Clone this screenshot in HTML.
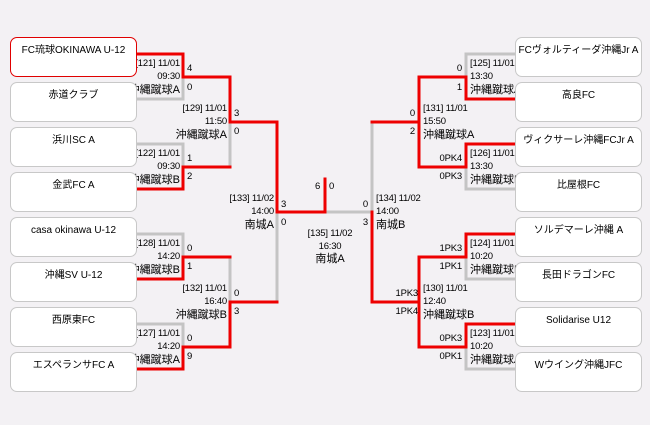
<!DOCTYPE html>
<html><head><meta charset="utf-8"><style>
html,body{margin:0;padding:0}
body{width:650px;height:425px;background:#f3f1f4;position:relative;overflow:hidden;font-family:"Liberation Sans","Noto Sans CJK JP",sans-serif;font-size:9.5px;color:#000}
svg{position:absolute;left:0;top:0}
.t{position:absolute;white-space:nowrap;line-height:13px;letter-spacing:-0.2px}
.t .j{font-size:11px;letter-spacing:0}
.r{text-align:right}
.b{position:absolute;background:#fff;border:1px solid #c8c8c8;border-radius:7px;text-align:center;z-index:5;line-height:12px;padding-top:7px;box-sizing:border-box;height:40px;width:127px;font-size:10px}
.red{border-color:#e00000}
</style></head><body>
<svg width="650" height="425">
<g fill="none" stroke-width="3" stroke-linecap="square">
<g stroke="#c4c4c4">
<path d="M137 99H183V77"/>
<path d="M137 144H183V167"/>
<path d="M230 122V167"/>
<path d="M137 234H183V257"/>
<path d="M137 324H183V347"/>
<path d="M230 257V302"/>
<path d="M277 212V302"/>
<path d="M325 212H372V122"/>
<path d="M515 54H466V77"/>
<path d="M515 189H466V167"/>
<path d="M515 279H466V257"/>
<path d="M515 369H466V347"/>
</g>
<g stroke="#ee0000">
<path d="M137 54H183V77H230V122H277V212H325V179"/>
<path d="M137 189H183V167H230"/>
<path d="M137 279H183V257H230"/>
<path d="M137 369H183V347H230V302H277"/>
<path d="M515 99H466V77H419V167H466V144H515"/>
<path d="M419 122H372"/>
<path d="M515 234H466V257H419V347H466V324H515"/>
<path d="M419 302H372V212"/>
</g>
</g>
</svg>

<div class="b red" style="left:10px;top:37px">FC琉球OKINAWA U-12</div>
<div class="b" style="left:10px;top:82px">赤道クラブ</div>
<div class="b" style="left:10px;top:127px">浜川SC A</div>
<div class="b" style="left:10px;top:172px">金武FC A</div>
<div class="b" style="left:10px;top:217px">casa okinawa U-12</div>
<div class="b" style="left:10px;top:262px">沖縄SV U-12</div>
<div class="b" style="left:10px;top:307px">西原東FC</div>
<div class="b" style="left:10px;top:352px">エスペランサFC A</div>

<div class="b" style="left:515px;top:37px">FCヴォルティーダ沖縄Jr A</div>
<div class="b" style="left:515px;top:82px">高良FC</div>
<div class="b" style="left:515px;top:127px">ヴィクサーレ沖縄FCJr A</div>
<div class="b" style="left:515px;top:172px">比屋根FC</div>
<div class="b" style="left:515px;top:217px">ソルデマーレ沖縄 A</div>
<div class="b" style="left:515px;top:262px">長田ドラゴンFC</div>
<div class="b" style="left:515px;top:307px">Solidarise U12</div>
<div class="b" style="left:515px;top:352px">Wウイング沖縄JFC</div>

<div class="t r" style="right:470px;top:57px">[121] 11/01<br>09:30</div><div class="t r" style="right:470px;top:84px"><span class="j">沖縄蹴球A</span></div>
<div class="t" style="left:187px;top:62px">4</div><div class="t" style="left:187px;top:81px">0</div>
<div class="t r" style="right:470px;top:147px">[122] 11/01<br>09:30</div><div class="t r" style="right:470px;top:174px"><span class="j">沖縄蹴球B</span></div>
<div class="t" style="left:187px;top:152px">1</div><div class="t" style="left:187px;top:170px">2</div>
<div class="t r" style="right:470px;top:237px">[128] 11/01<br>14:20</div><div class="t r" style="right:470px;top:264px"><span class="j">沖縄蹴球B</span></div>
<div class="t" style="left:187px;top:242px">0</div><div class="t" style="left:187px;top:260px">1</div>
<div class="t r" style="right:470px;top:327px">[127] 11/01<br>14:20</div><div class="t r" style="right:470px;top:354px"><span class="j">沖縄蹴球A</span></div>
<div class="t" style="left:187px;top:332px">0</div><div class="t" style="left:187px;top:350px">9</div>

<div class="t r" style="right:423px;top:102px">[129] 11/01<br>11:50</div><div class="t r" style="right:423px;top:129px"><span class="j">沖縄蹴球A</span></div>
<div class="t" style="left:234px;top:107px">3</div><div class="t" style="left:234px;top:125px">0</div>
<div class="t r" style="right:423px;top:282px">[132] 11/01<br>16:40</div><div class="t r" style="right:423px;top:309px"><span class="j">沖縄蹴球B</span></div>
<div class="t" style="left:234px;top:287px">0</div><div class="t" style="left:234px;top:305px">3</div>

<div class="t r" style="right:376px;top:192px">[133] 11/02<br>14:00</div><div class="t r" style="right:376px;top:219px"><span class="j">南城A</span></div>
<div class="t" style="left:281px;top:198px">3</div><div class="t" style="left:281px;top:216px">0</div>
<div class="t" style="left:315px;top:180px">6</div><div class="t" style="left:329px;top:180px">0</div>
<div class="t" style="left:300px;top:227px;width:60px;text-align:center">[135] 11/02<br>16:30</div>
<div class="t" style="left:300px;top:253px;width:60px;text-align:center"><span class="j">南城A</span></div>
<div class="t" style="left:376px;top:192px">[134] 11/02<br>14:00</div><div class="t" style="left:376px;top:219px"><span class="j">南城B</span></div>
<div class="t r" style="right:282px;top:198px">0</div><div class="t r" style="right:282px;top:216px">3</div>

<div class="t" style="left:423px;top:102px">[131] 11/01<br>15:50</div><div class="t" style="left:423px;top:129px"><span class="j">沖縄蹴球A</span></div>
<div class="t r" style="right:235px;top:107px">0</div><div class="t r" style="right:235px;top:125px">2</div>
<div class="t" style="left:423px;top:282px">[130] 11/01<br>12:40</div><div class="t" style="left:423px;top:309px"><span class="j">沖縄蹴球B</span></div>
<div class="t r" style="right:232px;top:287px">1PK3</div><div class="t r" style="right:232px;top:305px">1PK4</div>

<div class="t" style="left:470px;top:57px">[125] 11/01<br>13:30</div><div class="t" style="left:470px;top:84px"><span class="j">沖縄蹴球A</span></div>
<div class="t r" style="right:188px;top:62px">0</div><div class="t r" style="right:188px;top:81px">1</div>
<div class="t" style="left:470px;top:147px">[126] 11/01<br>13:30</div><div class="t" style="left:470px;top:174px"><span class="j">沖縄蹴球B</span></div>
<div class="t r" style="right:188px;top:152px">0PK4</div><div class="t r" style="right:188px;top:170px">0PK3</div>
<div class="t" style="left:470px;top:237px">[124] 11/01<br>10:20</div><div class="t" style="left:470px;top:264px"><span class="j">沖縄蹴球B</span></div>
<div class="t r" style="right:188px;top:242px">1PK3</div><div class="t r" style="right:188px;top:260px">1PK1</div>
<div class="t" style="left:470px;top:327px">[123] 11/01<br>10:20</div><div class="t" style="left:470px;top:354px"><span class="j">沖縄蹴球A</span></div>
<div class="t r" style="right:188px;top:332px">0PK3</div><div class="t r" style="right:188px;top:350px">0PK1</div>
</body></html>
